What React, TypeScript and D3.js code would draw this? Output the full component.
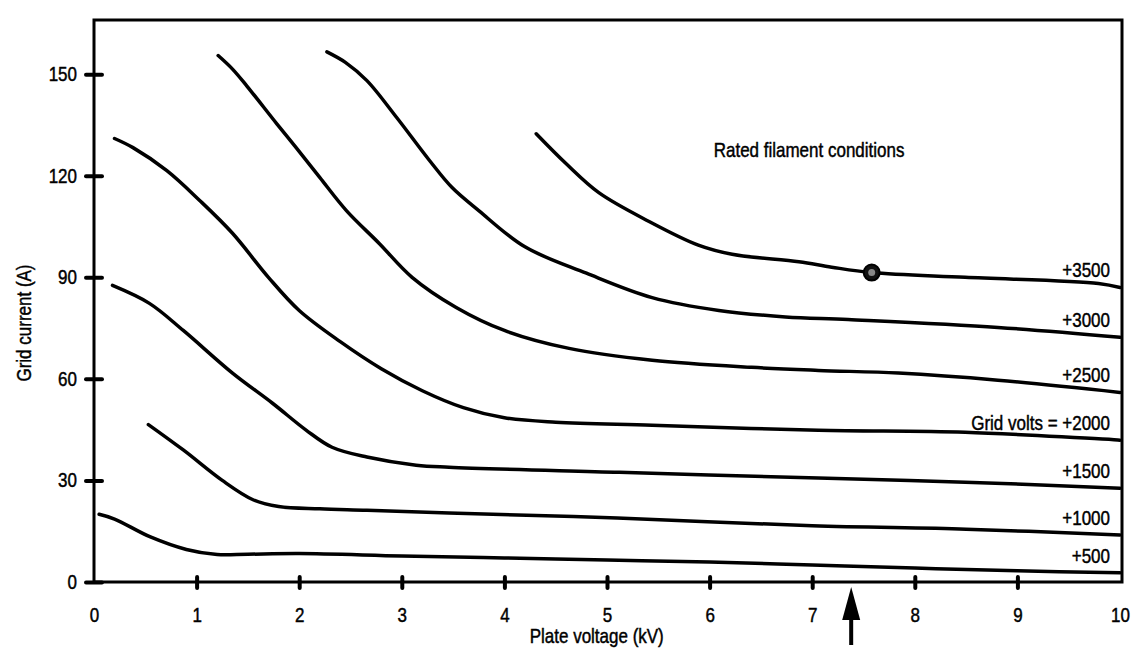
import { useEffect, useRef } from 'react';
import * as d3 from 'd3';

type Pt = [number, number];

// Grid current (A) vs plate voltage (kV)
const curve500: Pt[] = [[0.05, 20], [0.2, 18.6], [0.55, 13.3], [0.9, 9.6], [1.2, 8.1], [1.5, 8.2], [2, 8.4], [3, 7.7], [4, 7.1], [5, 6.5], [6, 5.9], [7, 5.0], [8, 4.1], [9, 3.3], [10, 2.7]];
const curve1000: Pt[] = [[0.53, 46.5], [0.87, 39], [1.25, 30], [1.55, 24.3], [1.8, 22.3], [2.2, 21.6], [2.66, 21.2], [3.46, 20.4], [5.1, 18.9], [7, 16.6], [8.5, 15.6], [10, 13.9]];
const curve1500: Pt[] = [[0.18, 87.6], [0.54, 82.3], [0.87, 74.3], [1.35, 61.7], [1.74, 52.8], [2.07, 44.8], [2.32, 39.8], [2.66, 36.9], [3.14, 34.5], [3.46, 33.9], [5.12, 32.4], [7.06, 30.7], [8.49, 29.5], [10, 27.7]];
const curve2000: Pt[] = [[0.2, 131], [0.38, 128.3], [0.71, 121.5], [1.03, 112.7], [1.35, 103], [1.7, 90], [2.0, 80.2], [2.4, 71], [2.8, 63], [3.2, 56.5], [3.6, 51.5], [4.0, 48.5], [4.5, 47.2], [5.44, 46.3], [7.06, 44.8], [8.49, 44.2], [10, 41.9]];
const curve2500: Pt[] = [[1.21, 155.5], [1.35, 151.5], [1.49, 146.5], [1.78, 135.4], [1.97, 128.3], [2.2, 119.5], [2.46, 109.7], [2.78, 100], [3.1, 90], [3.53, 81.1], [4.0, 74.3], [4.63, 69], [5.44, 65.5], [6.41, 63.4], [7.06, 62.5], [7.84, 61.7], [8.81, 59.6], [10, 56]];
const curve3000: Pt[] = [[2.27, 156.6], [2.45, 153.5], [2.66, 148.1], [2.95, 137.2], [3.27, 124.5], [3.49, 116.5], [3.75, 109.7], [4.2, 99], [4.8, 91.2], [5.44, 84], [6.09, 80.2], [6.74, 78.3], [7.35, 77.5], [8.81, 75.2], [10, 72.3]];
const curve3500: Pt[] = [[4.31, 132.4], [4.6, 123.6], [4.92, 115], [5.41, 106.5], [5.89, 99.5], [6.22, 96.8], [6.87, 94.6], [7.19, 93], [7.58, 91.4], [8.49, 90], [9.79, 88.2], [10, 87]];

const curves = [curve3500, curve3000, curve2500, curve2000, curve1500, curve1000, curve500];
const curveLabels = ['+3500', '+3000', '+2500', 'Grid volts = +2000', '+1500', '+1000', '+500'];

const xTicks = [0, 1, 2, 3, 4, 5, 6, 7, 8, 9, 10];
const yTicks = [0, 30, 60, 90, 120, 150];
const yMax = 166;
const ratedPoint: Pt = [7.58, 91.4];
const arrowX = 7.38;

const FONT = '"Liberation Sans", Arial, Helvetica, sans-serif';
const SQUEEZE = 0.85; // the scan's type is a condensed Helvetica

export default function App() {
    const svgRef = useRef<SVGSVGElement>(null);

    useEffect(() => {
        if (!svgRef.current) return;
        const width = 1139;
        const height = 650;
        d3.select(svgRef.current).selectAll('*').remove();

        const margin = { top: 20, right: 17, bottom: 68, left: 94 };
        const innerWidth = width - margin.left - margin.right - 2;
        const innerHeight = height - margin.top - margin.bottom;

        const svg = d3.select(svgRef.current).attr('width', width).attr('height', height);
        svg.append('rect').attr('width', width).attr('height', height).attr('fill', '#fff');

        const g = svg.append('g').attr('transform', `translate(${margin.left},${margin.top})`);

        const x = d3.scaleLinear().domain([0, 10]).range([0, innerWidth]);
        const y = d3.scaleLinear().domain([0, yMax]).range([innerHeight, 0]);

        const styleText = (sel: any, size: number) =>
            sel
                .attr('font-family', FONT)
                .attr('font-size', size)
                .attr('fill', '#000')
                .attr('stroke', '#000')
                .attr('stroke-width', 0.45);

        // condensed text placed at (px, py)
        const label = (px: number, py: number, size: number, anchor: string, rotate = 0) =>
            styleText(
                g.append('text')
                    .attr('transform', `translate(${px},${py}) rotate(${rotate}) scale(${SQUEEZE},1)`)
                    .attr('text-anchor', anchor),
                size
            );

        // Frame
        g.append('path')
            .attr('d', `M0,${innerHeight} V0 H${innerWidth + 2} V${innerHeight} Z`)
            .attr('fill', 'none')
            .attr('stroke', '#000')
            .attr('stroke-width', 3);

        // Axes
        const yAxis = g
            .append('g')
            .call(d3.axisLeft(y).tickValues(yTicks).tickSizeInner(8).tickSizeOuter(0).tickPadding(9));
        yAxis.select('.domain').remove();
        yAxis.selectAll('.tick line').attr('x1', 8).attr('stroke-width', 4).attr('stroke-linecap', 'round');
        styleText(yAxis.selectAll('.tick text'), 20)
            .attr('x', -17 / SQUEEZE)
            .attr('transform', `scale(${SQUEEZE},1)`);

        const xAxis = g
            .append('g')
            .attr('transform', `translate(0,${innerHeight})`)
            .call(d3.axisBottom(x).tickValues(xTicks).tickSizeInner(6).tickSizeOuter(0).tickPadding(20));
        xAxis.select('.domain').remove();
        xAxis
            .selectAll('.tick line')
            .attr('y1', -5)
            .attr('stroke-width', 4)
            .attr('stroke-linecap', 'round');
        xAxis.selectAll('.tick').filter((d: any) => d === 0 || d === 10).select('line').remove();
        styleText(xAxis.selectAll('.tick text'), 20).attr('transform', `scale(${SQUEEZE},1)`);

        // Axis titles
        label(x(4.9), innerHeight + 61, 20, 'middle').text('Plate voltage (kV)');
        label(-63, y(76.5), 20, 'middle', -90).text('Grid current (A)');

        // Curves
        const line = d3
            .line<Pt>()
            .x((d) => x(d[0]))
            .y((d) => y(d[1]))
            .curve(d3.curveCatmullRom.alpha(0.5));

        curves.forEach((c, i) => {
            g.append('path')
                .datum(c)
                .attr('fill', 'none')
                .attr('stroke', '#000')
                .attr('stroke-width', 3.5)
                .attr('stroke-linecap', 'round')
                .attr('stroke-linejoin', 'round')
                .attr('d', line);

            const last = c[c.length - 1];
            label(x(10) - 10, y(last[1]) - 10, 20, 'end').text(curveLabels[i]);
        });

        // Rated point marker
        g.append('circle')
            .attr('cx', x(ratedPoint[0]))
            .attr('cy', y(ratedPoint[1]))
            .attr('r', 8)
            .attr('fill', '#111')
            .attr('stroke', '#000')
            .attr('stroke-width', 2);
        g.append('circle')
            .attr('cx', x(ratedPoint[0]))
            .attr('cy', y(ratedPoint[1]))
            .attr('r', 3.5)
            .attr('fill', '#888');

        label(x(6.04), y(125.4), 20, 'start').text('Rated filament conditions');

        // Arrow below the axis
        const ax = x(arrowX);
        g.append('line')
            .attr('x1', ax)
            .attr('x2', ax)
            .attr('y1', innerHeight + 30)
            .attr('y2', innerHeight + 63)
            .attr('stroke', '#000')
            .attr('stroke-width', 4);
        g.append('path')
            .attr('d', `M${ax},${innerHeight + 5} L${ax - 9},${innerHeight + 38} L${ax + 9},${innerHeight + 38} Z`)
            .attr('fill', '#000');
    }, []);

    return (
        <div style={{ position: 'absolute', left: 0, top: 0 }}>
            <svg ref={svgRef} style={{ display: 'block' }} />
        </div>
    );
}
